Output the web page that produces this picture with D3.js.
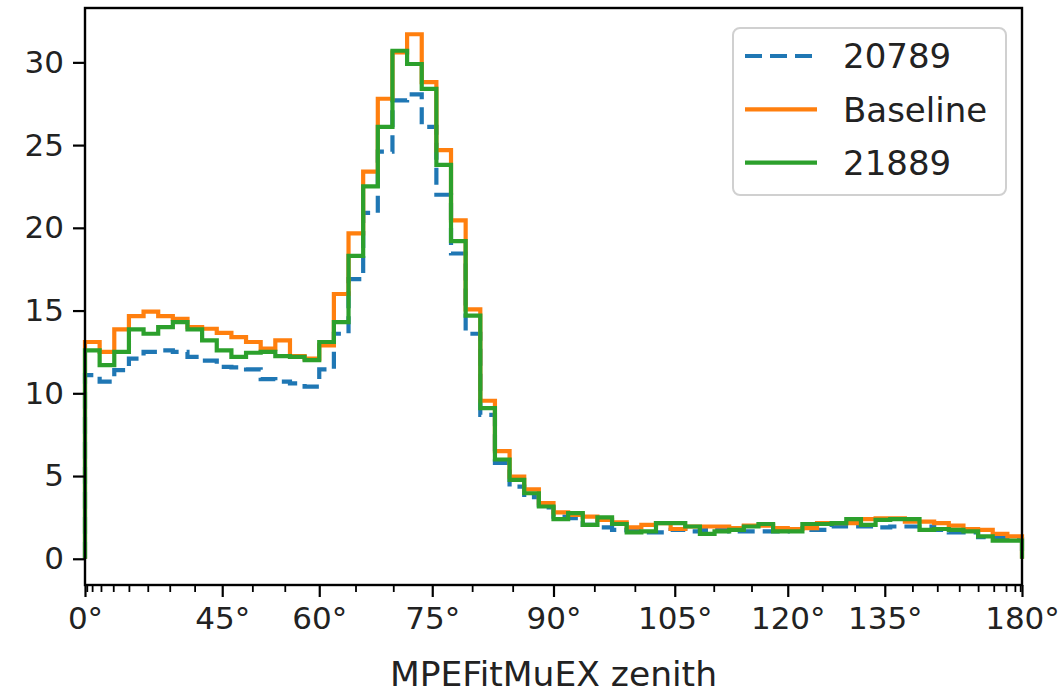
<!DOCTYPE html>
<html>
<head>
<meta charset="utf-8">
<script src="https://cdn.jsdelivr.net/npm/d3@7"></script>
<style>
  body { margin: 0; background: #fff; }
  svg { display: block; }
</style>
</head>
<body>
<svg id="chart" width="1064" height="693"></svg>
<script>
// 64 bins, evenly spaced in cos(zenith) from 1 (0°) to -1 (180°)
var nBins = 64;

var run20789 = [11.1, 10.7, 11.4, 12.1, 12.5, 12.6, 12.5, 12.2, 11.97, 11.6, 11.57, 11.45, 10.86, 10.7, 10.6, 10.4,
  11.45, 13.6, 16.9, 20.9, 24.6, 27.7, 28.06, 26.1, 22.0, 18.45, 13.6, 8.7, 5.8, 4.36, 3.72, 3.1,
  2.55, 2.45, 2.05, 1.9, 1.75, 1.7, 1.6, 1.6, 1.75, 1.65, 1.75, 1.8, 1.65, 1.65, 1.65, 1.65,
  1.8, 1.75, 1.75, 1.95, 1.95, 1.95, 1.9, 1.95, 1.95, 1.95, 1.75, 1.6, 1.6, 1.3, 1.3, 1.2];

var baseline = [13.1, 12.5, 13.86, 14.67, 14.93, 14.67, 14.5, 14.0, 13.9, 13.65, 13.4, 13.1, 12.7, 13.2, 12.25, 12.1,
  12.9, 16.0, 19.66, 23.4, 27.8, 30.6, 31.7, 28.8, 24.7, 20.45, 15.07, 9.55, 6.5, 4.97, 4.2, 3.36,
  2.8, 2.65, 2.55, 2.35, 2.2, 1.9, 2.05, 2.15, 1.8, 1.95, 1.95, 1.95, 1.85, 2.0, 2.0, 1.85,
  1.8, 1.85, 2.15, 2.15, 2.15, 2.4, 2.45, 2.45, 2.25, 2.25, 2.15, 2.0, 1.8, 1.75, 1.5, 1.35];

var run21889 = [12.6, 11.7, 12.5, 13.86, 13.6, 14.0, 14.3, 13.86, 13.2, 12.6, 12.2, 12.45, 12.5, 12.25, 12.2, 12.0,
  13.1, 14.3, 18.3, 22.5, 26.1, 30.7, 29.9, 28.4, 23.8, 19.2, 14.7, 9.1, 6.0, 4.77, 3.96, 3.16,
  2.4, 2.76, 2.05, 2.5, 2.1, 1.6, 1.65, 2.15, 2.15, 1.95, 1.5, 1.65, 1.75, 1.95, 2.1, 1.65,
  1.65, 2.1, 2.1, 2.15, 2.4, 2.05, 2.35, 2.4, 2.4, 1.75, 1.8, 1.75, 1.65, 1.35, 1.1, 1.1];

var seriesNames = ["20789", "Baseline", "21889"];
var seriesColors = ["#1f77b4", "#ff7f0e", "#2ca02c"];
var seriesDash = ["17,8", null, null];
var seriesData = [run20789, baseline, run21889];

var xMajorDeg = [0, 45, 60, 75, 90, 105, 120, 135, 180];
var yTicks = [0, 5, 10, 15, 20, 25, 30];

var svg = d3.select("#chart"),
    margin = {left: 85, right: 42, top: 8, bottom: 108},
    W = +svg.attr("width"),
    H = +svg.attr("height");

var font = "DejaVu Sans";
var rad = Math.PI / 180;

var x = d3.scaleLinear()
    .domain([1, -1])
    .range([margin.left, W - margin.right]);

var ymax = d3.max(seriesData, function(s) { return d3.max(s); });
var y = d3.scaleLinear()
    .domain([-0.05 * ymax, 1.05 * ymax])
    .range([H - margin.bottom, margin.top]);

var edges = d3.range(nBins + 1).map(function(i) { return 1 - 2 * i / nBins; });

function stepPoints(vals) {
  var pts = [[edges[0], 0]];
  vals.forEach(function(v, i) {
    pts.push([edges[i], v]);
    pts.push([edges[i + 1], v]);
  });
  pts.push([edges[nBins], 0]);
  return pts;
}

var line = d3.line()
    .x(function(d) { return x(d[0]); })
    .y(function(d) { return y(d[1]); });

//histogram steps
seriesData.forEach(function(s, i) {
  svg.append("path")
    .attr("d", line(stepPoints(s)))
    .attr("fill", "none")
    .attr("stroke", seriesColors[i])
    .attr("stroke-width", 4.2)
    .attr("stroke-linejoin", "miter")
    .attr("stroke-dasharray", seriesDash[i]);
});

//y axis
var yAxis = svg.append("g")
  .attr("transform", "translate(" + margin.left + ",0)")
  .call(d3.axisLeft(y).tickValues(yTicks).tickSize(12).tickPadding(9));

//x axis, major ticks at angles
var xAxis = svg.append("g")
  .attr("transform", "translate(0," + (H - margin.bottom) + ")")
  .call(d3.axisBottom(x)
    .tickValues(xMajorDeg.map(function(d) { return Math.cos(d * rad); }))
    .tickFormat(function(d, i) { return xMajorDeg[i] + "°"; })
    .tickSize(12).tickPadding(10));

//minor ticks every 5°
var minorDeg = d3.range(0, 181, 5).filter(function(d) { return xMajorDeg.indexOf(d) < 0; });
svg.append("g")
  .attr("transform", "translate(0," + (H - margin.bottom) + ")")
  .call(d3.axisBottom(x)
    .tickValues(minorDeg.map(function(d) { return Math.cos(d * rad); }))
    .tickFormat("")
    .tickSize(7))
  .call(function(g) { g.select(".domain").remove(); })
  .selectAll("line").attr("stroke-width", 1.8);

[xAxis, yAxis].forEach(function(g) {
  g.select(".domain").remove();
  g.selectAll(".tick line").attr("stroke-width", 2.2);
  g.selectAll("text")
    .attr("font-family", font)
    .attr("font-size", "31px")
    .attr("fill", "#222");
});

//frame
svg.append("rect")
  .attr("x", margin.left)
  .attr("y", margin.top)
  .attr("width", W - margin.left - margin.right)
  .attr("height", H - margin.top - margin.bottom)
  .attr("fill", "none")
  .attr("stroke", "#000")
  .attr("stroke-width", 2.4);

//x label
svg.append("text")
  .attr("x", (margin.left + W - margin.right) / 2)
  .attr("y", 686)
  .attr("text-anchor", "middle")
  .attr("font-family", font)
  .attr("font-size", "34.5px")
  .attr("fill", "#222")
  .text("MPEFitMuEX zenith");

//legend
var legend = svg.append("g").attr("transform", "translate(733,28)");

legend.append("rect")
  .attr("width", 273)
  .attr("height", 167)
  .attr("rx", 7)
  .attr("fill", "#fff")
  .attr("fill-opacity", 0.8)
  .attr("stroke", "#d0d0d0")
  .attr("stroke-width", 2);

seriesNames.forEach(function(name, i) {
  var ly = 28 + i * 53.3;
  legend.append("line")
    .attr("x1", 12)
    .attr("x2", 84)
    .attr("y1", ly)
    .attr("y2", ly)
    .attr("stroke", seriesColors[i])
    .attr("stroke-width", 4.2)
    .attr("stroke-dasharray", seriesDash[i]);
  legend.append("text")
    .attr("x", 110)
    .attr("y", ly)
    .attr("dy", "0.36em")
    .attr("font-family", font)
    .attr("font-size", "34px")
    .attr("fill", "#222")
    .text(name);
});
</script>
</body>
</html>
